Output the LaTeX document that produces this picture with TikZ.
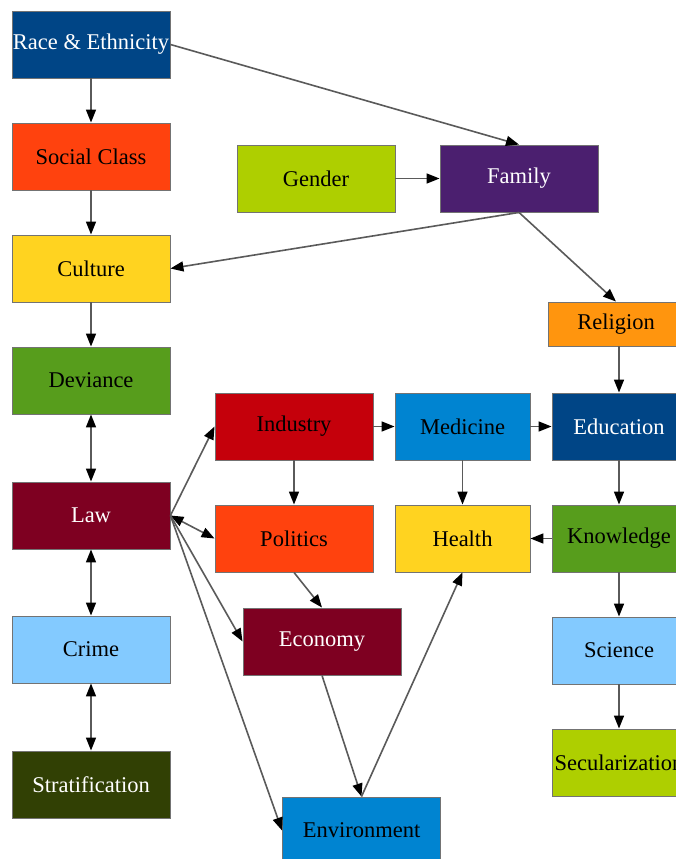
\documentclass[tikz,border=0pt]{standalone}
\usepackage{fontspec}
\setmainfont{Liberation Serif}
\usetikzlibrary{arrows.meta}
\definecolor{cRace}{HTML}{004586}
\definecolor{cSocial}{HTML}{FF420E}
\definecolor{cCulture}{HTML}{FFD320}
\definecolor{cGreen}{HTML}{579D1C}
\definecolor{cMaroon}{HTML}{7E0021}
\definecolor{cLight}{HTML}{83CAFF}
\definecolor{cOlive}{HTML}{314004}
\definecolor{cLime}{HTML}{AECF00}
\definecolor{cPurple}{HTML}{4B1F6F}
\definecolor{cOrange}{HTML}{FF950E}
\definecolor{cRed}{HTML}{C5000B}
\definecolor{cBlue}{HTML}{0084D1}
\definecolor{cLine}{HTML}{5A5A5A}
\begin{document}
\begin{tikzpicture}[x=1pt,y=-1pt,
  box/.style={draw=black!55, line width=0.9pt, inner sep=0pt, minimum width=158pt, minimum height=67pt,
    font=\fontsize{22.5}{27}\selectfont},
  wt/.style={text=white},
  tip/.style={},
  edge/.style={draw=cLine, line width=1.6pt, -{Triangle[length=13pt,width=10pt,fill=black,color=black]}},
  bi/.style={draw=cLine, line width=1.6pt, {Triangle[length=13pt,width=10pt,fill=black,color=black]}-{Triangle[length=13pt,width=10pt,fill=black,color=black]}}
]
\useasboundingbox (0,0) rectangle (676,859);
\clip (0,0) rectangle (676,859);
\fill[white] (0,0) rectangle (676,859);
% left column
\node[box, fill=cRace, wt] (race) at (91,44.5) {Race \& Ethnicity};
\node[box, fill=cSocial] (social) at (91,156.5) {Social Class};
\node[box, fill=cCulture] (culture) at (91,268.5) {Culture};
\node[box, fill=cGreen] (deviance) at (91,380.5) {Deviance};
\node[box, fill=cMaroon, wt] (law) at (91,515.5) {Law};
\node[box, fill=cLight] (crime) at (91,649.5) {Crime};
\node[box, fill=cOlive, wt] (strat) at (91,784.5) {Stratification};
% top
\node[box, fill=cLime] (gender) at (316,178.5) {Gender};
\node[box, fill=cPurple, wt] (family) at (519,178.5) {Family};
% middle
\node[box, fill=cRed] (industry) at (294,426.5) {Industry};
\node[box, fill=cSocial] (politics) at (294,538.5) {Politics};
\node[box, fill=cMaroon, wt] (economy) at (322,641.5) {Economy};
\node[box, fill=cBlue] (environment) at (361.5,830.5) {Environment};
\node[box, fill=cBlue, minimum width=135pt] (medicine) at (462.5,426.5) {Medicine};
\node[box, fill=cCulture, minimum width=135pt] (health) at (462.5,538.5) {Health};
% right column
\node[box, fill=cOrange, minimum width=136pt, minimum height=44pt] (religion) at (616,324) {Religion};
\node[box, fill=cRace, wt, minimum width=134pt] (education) at (619,426.5) {Education};
\node[box, fill=cGreen, minimum width=134pt] (knowledge) at (619,538.5) {Knowledge};
\node[box, fill=cLight, minimum width=134pt] (science) at (619,650.5) {Science};
\node[box, fill=cLime, minimum width=134pt] (secular) at (619,762.5) {Secularization};
% edges
\draw[edge] (race) -- (social);
\draw[edge] (race.east) -- (family.north);
\draw[edge] (social) -- (culture);
\draw[edge] (gender) -- (family);
\draw[edge] (family.south) -- (culture.east);
\draw[edge] (family.south) -- (religion.north);
\draw[edge] (culture) -- (deviance);
\draw[bi] (deviance) -- (law);
\draw[bi] (law) -- (crime);
\draw[bi] (crime) -- (strat);
\draw[edge] (law.east) -- (industry.west);
\draw[bi] (law.east) -- (politics.west);
\draw[edge] (law.east) -- (economy.west);
\draw[edge] (law.east) -- (environment.west);
\draw[edge] (industry) -- (medicine);
\draw[edge] (industry) -- (politics);
\draw[edge] (medicine) -- (education);
\draw[edge] (medicine) -- (health);
\draw[edge] (religion.south -| education.north) -- (education.north);
\draw[edge] (education) -- (knowledge);
\draw[edge] (knowledge) -- (health);
\draw[edge] (knowledge) -- (science);
\draw[edge] (science) -- (secular);
\draw[edge] (politics.south) -- (economy.north);
\draw[edge] (economy.south) -- (environment.north);
\draw[edge] (environment.north) -- (health.south);
\end{tikzpicture}
\end{document}
